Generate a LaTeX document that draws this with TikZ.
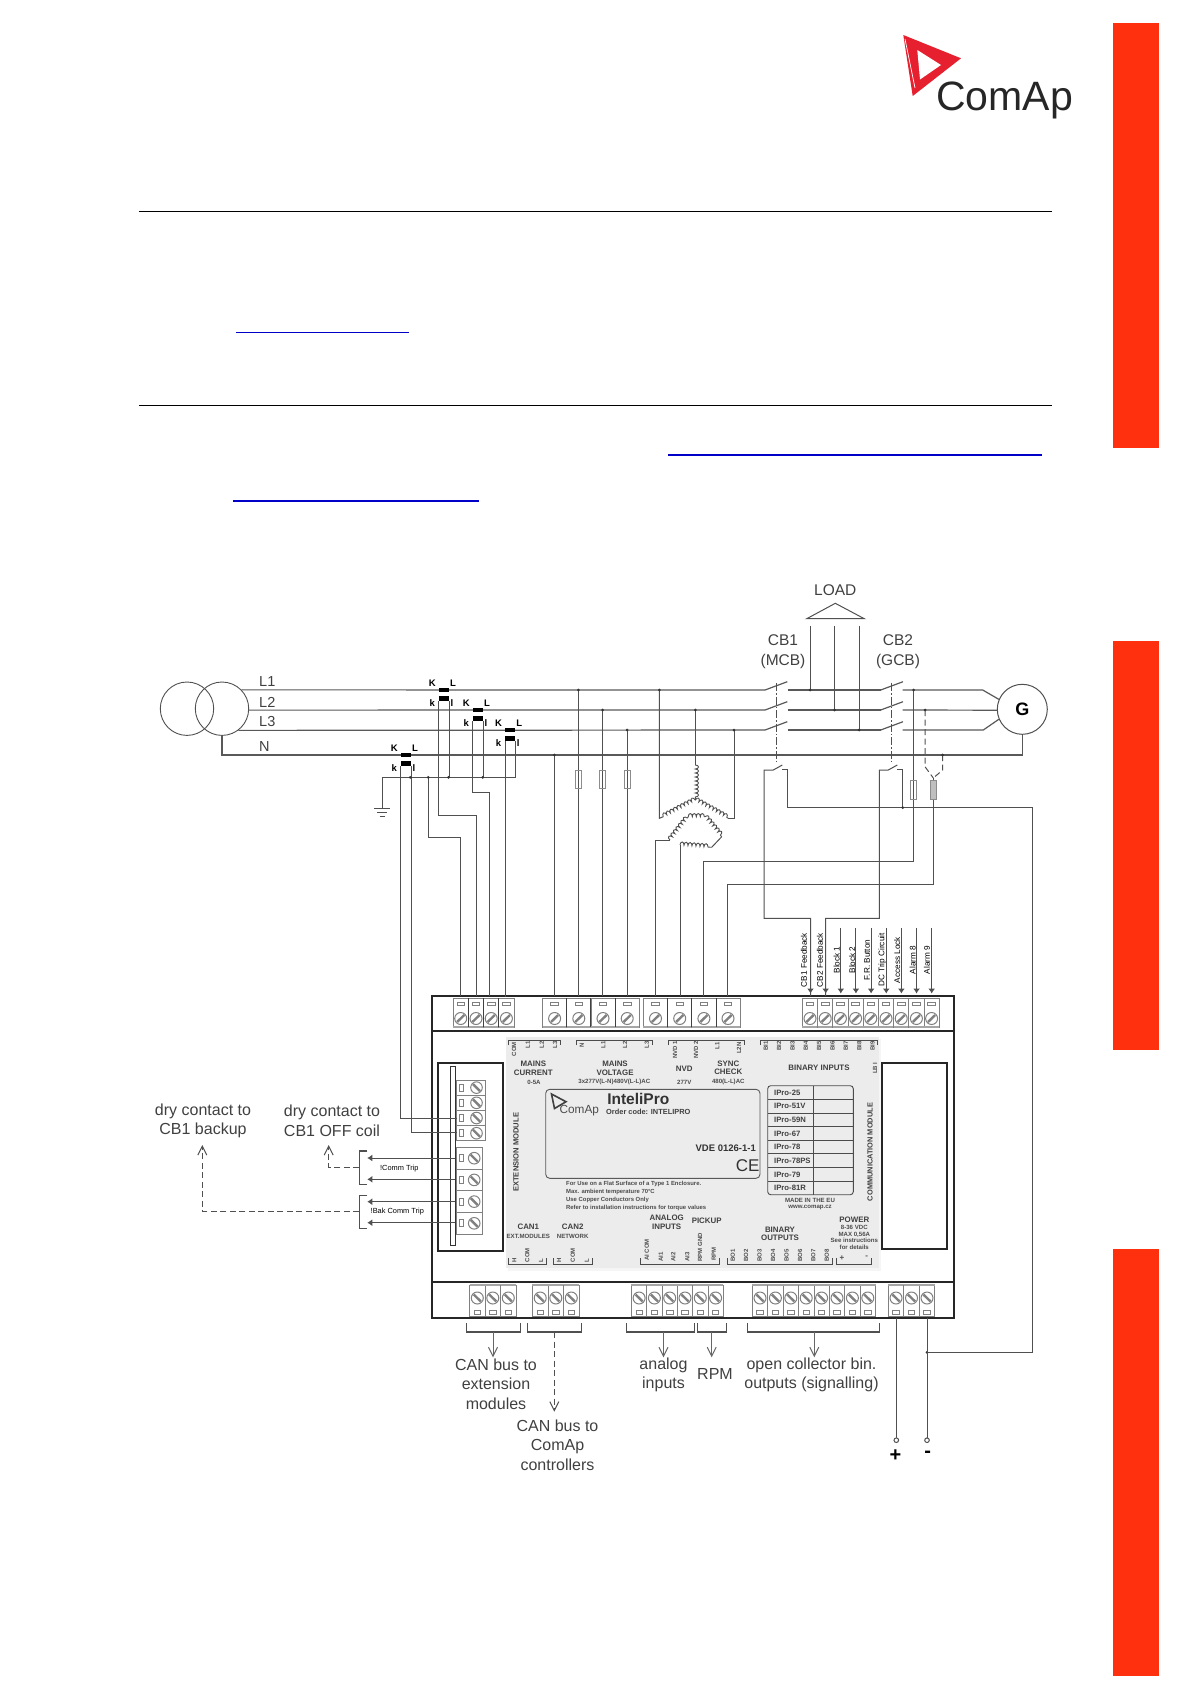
\documentclass[tikz,border=0pt]{standalone}
\usepackage{fontspec}
\setmainfont{Liberation Sans}
\usetikzlibrary{arrows.meta,decorations.pathmorphing}
\definecolor{barred}{HTML}{FF300E}
\definecolor{logored}{HTML}{E6202E}
\definecolor{linkblue}{HTML}{0000C8}
\definecolor{wirecol}{HTML}{505050}
\definecolor{labcol}{HTML}{404040}
\definecolor{panelcol}{HTML}{ECECEC}
\definecolor{blockcol}{HTML}{808080}
\newcommand{\fsz}[2]{\fontsize{#1}{#2}\selectfont}
\tikzset{
	wire/.style={draw=wirecol,line width=1pt},
	phase/.style={draw=black!65,line width=1.2pt},
	frame/.style={draw=black!85,line width=2.2pt},
	blockline/.style={draw=blockcol,line width=.8pt,fill=white},
	screwline/.style={draw=blockcol,line width=1pt,fill=white},
	hatch/.style={draw=blockcol,line width=2.4pt},
	band/.style={draw=blockcol!70,line width=1.8pt},
	dashwire/.style={draw=wirecol,line width=1pt,dash pattern=on 6pt off 3.5pt},
	mech/.style={draw=wirecol,line width=.9pt,dash pattern=on 8pt off 2pt on 1.5pt off 2pt},
	brk/.style={draw=wirecol,line width=1.2pt},
	pbrk/.style={draw=black!70,line width=.9pt},
	openarr/.style={-{Straight Barb[length=9pt,width=9pt]}},
	blackarr/.style={-{Latex[length=5pt,width=7pt]}},
	ctbar/.style={fill=black,inner sep=0pt,minimum width=10pt,minimum height=4.5pt},
	ctlab/.style={font=\bfseries\fsz{9.5}{10},inner sep=0pt},
	lab/.style={font=\fsz{16}{19.6},text=labcol,align=center,inner sep=0pt},
	pinlab/.style={font=\fsz{8.2}{9},rotate=90,inner sep=0pt},
	ptxt/.style={font=\bfseries\fsz{7.9}{8.6},text=black!75,align=center,inner sep=0pt},
	psmall/.style={font=\bfseries\fsz{6.1}{6.5},text=black!70,align=center,inner sep=0pt},
	ppin/.style={font=\bfseries\fsz{6}{6},text=black!70,rotate=90,inner sep=0pt},
	fuse/.style={draw=black!45,line width=.9pt},
}
% x centre, top y, width
\newcommand{\termT}[3]{
	\draw[blockline] (#1-#3/2,#2) rectangle (#1+#3/2,#2+29);
	\draw[blockline] (#1-3.8,#2+4) rectangle (#1+3.8,#2+7.5);
	\draw[screwline] (#1,#2+20.5) circle (6);
	\draw[hatch] (#1-3.6,#2+24) -- (#1+3.6,#2+17);
	\draw[band] (#1-#3/2,#2+29) -- (#1+#3/2,#2+29);
}
\newcommand{\termB}[3]{
	\draw[blockline] (#1-#3/2,#2) rectangle (#1+#3/2,#2+31);
	\draw[blockline] (#1-3.2,#2+25) rectangle (#1+3.2,#2+29);
	\draw[screwline] (#1,#2+13) circle (6);
	\draw[hatch] (#1-3.6,#2+9.5) -- (#1+3.6,#2+16.5);
	\draw[band] (#1-#3/2,#2) -- (#1+#3/2,#2);
}
% centre y, left x, right x, height
\newcommand{\termL}[4]{
	\draw[blockline] (#2,#1-#4/2) rectangle (#3,#1+#4/2);
	\draw[blockline] (#2+3,#1-3.5) rectangle (#2+6.5,#1+3.5);
	\draw[screwline] (#3-8.5,#1) circle (5.8);
	\draw[hatch] (#3-12,#1-3.5) -- (#3-5,#1+3.5);
}
\newcommand{\blade}[2]{\draw[phase] (#1,#2) -- ++(22.3,-8.3);}
\begin{document}
\begin{tikzpicture}[x=1pt,y=-1pt]
	\useasboundingbox (0,0) rectangle (1191,1684);
	% page furniture
	\foreach \ya/\yb in {23/448,641/1050,1249/1676}
		\fill[barred] (1113,\ya) rectangle (1159,\yb);
	\draw[black,line width=1pt] (139,211.5) -- (1052,211.5);
	\draw[black,line width=1pt] (139,405.5) -- (1052,405.5);
	\draw[linkblue,line width=1pt] (236,332) -- (409,332);
	\draw[linkblue,line width=2pt] (668,454.5) -- (1041.5,454.5);
	\draw[linkblue,line width=2pt] (233,500.5) -- (479,500.5);
	% logo
	\fill[logored] (903.3,35) -- (961,58.3) -- (912.7,96) -- cycle;
	\fill[white] (917.3,50) -- (941,65) -- (920,79.5) -- cycle;
	\draw[white,line width=.7pt] (905,39) -- (915,88);
	\node[font=\fsz{41}{41},text=black!85,inner sep=0pt,anchor=base west] (logotext) at (936,110) {ComAp};

	% controller
	\fill[black!4] (508,1039) rectangle (881,1271);
	\fill[panelcol] (506,1037) rectangle (879,1268);
	\draw[frame] (432,996) rectangle (954.3,1318);
	\draw[frame] (432,1030.7) -- (954.3,1030.7);
	\draw[frame] (432,1282) -- (954.3,1282);
	\draw[frame] (438.3,1063.3) rectangle (503.3,1250.7);
	\draw[frame] (882.3,1062.7) rectangle (947.3,1249.3);
	\draw[draw=black!80,line width=.9pt,fill=white] (450.7,1066.7) rectangle (455.7,1245);
	\foreach \x in {460.7,476,491.2,506.4} {\termT{\x}{998}{15.3}}
	\foreach \x in {554.6,578.8,603,627.2,655.5,679.7,703.9,728} {\termT{\x}{998}{24.2}}
	\foreach \i in {0,...,8} {\termT{810+15.2*\i}{998}{15.2}}
	\foreach \x in {468.4,483.7,498.9,566.7,590.9,615.1,667.6,691.8,716} {\draw[draw=black!75,line width=.9pt] (\x,998) -- (\x,1027);}
	\foreach \x in {477.3,492.8,508.3,540.2,555.8,571.3} {\termB{\x}{1285}{15.5}}
	\foreach \i in {0,...,5} {\termB{639.1+15.3*\i}{1285}{15.3}}
	\foreach \i in {0,...,7} {\termB{760+15.4*\i}{1285}{15.4}}
	\foreach \x in {896,911.5,927} {\termB{\x}{1285}{15.5}}
	\foreach \y in {1087.6,1102.8,1118,1133.2} {\termL{\y}{456.7}{485}{15.2}}
	\foreach \y in {1158.2,1179.9,1201.6,1223.3} {\termL{\y}{456.7}{482.7}{21.7}}
	\foreach \n/\x in {cur1/460.7,cur2/476,cur3/489.7,cur4/505.5,vlt1/554.4,vlt2/578.4,vlt3/602.7,vlt4/627.2,nvd1/655.7,nvd2/680,syn1/703.3,syn2/727.7,inpA/810.5,inpB/825.7}
		\coordinate (\n) at (\x,996);
	\coordinate (busW) at (382.3,777.3);
	\coordinate (busE) at (515,777.3);

	% panel print
	\draw[draw=black!65,line width=.9pt,rounded corners=4pt] (545.7,1089.3) rectangle (760,1178.3);
	\draw[draw=black!75,line width=1.6pt] (551.5,1094) -- (566,1101.7) -- (554.5,1108.5) -- cycle;
	\node[font=\fsz{11.8}{12},text=black!70,inner sep=0pt] (cmpsmall) at (579.3,1110.7) {ComAp};
	\node[font=\bfseries\fsz{15.5}{16},text=black!80,inner sep=0pt] (modelname) at (638.3,1099.3) {InteliPro};
	\node[font=\bfseries\fsz{7.4}{8},text=black!75,inner sep=0pt] (ordercode) at (648.3,1111.7) {Order code: INTELIPRO};
	\node[font=\bfseries\fsz{9.5}{10},text=black!80,inner sep=0pt] (vdetxt) at (725.7,1148.7) {VDE 0126-1-1};
	\node[font=\fsz{17}{17},text=black!80,inner sep=0pt] (cetxt) at (747.7,1166) {CE};
	\node[font=\bfseries\fsz{5.9}{7.9},text=black!70,align=left,inner sep=0pt,anchor=north west] (notes) at (566,1181.5) {For Use on a Flat Surface of a Type 1 Enclosure.\\Max. ambient temperature 70°C\\Use Copper Conductors Only\\Refer to installation instructions for torque values};
	\node[ptxt,font=\bfseries\fsz{7.6}{8},rotate=90] (extmod) at (516,1152.3) {EXTENSION MODULE};
	\node[ptxt,font=\bfseries\fsz{7.4}{8},rotate=90] (commod) at (870,1152) {COMMUNICATION MODULE};
	\foreach \n/\t/\x/\y in {h1/{MAINS\\CURRENT}/533.3/1068,h2/{MAINS\\VOLTAGE}/615/1068,h3/NVD/684.3/1068.3,h4/{SYNC\\CHECK}/728.3/1067.7,h5/BINARY INPUTS/819/1067.7,h6/{CAN1}/528.3/1226.7,h7/{CAN2}/572.7/1226.7,h8/{ANALOG\\INPUTS}/666.7/1222.2,h9/PICKUP/706.7/1220.3,h10/{BINARY\\OUTPUTS}/780/1233.7,h11/POWER/854.3/1220}
		\node[ptxt] (\n) at (\x,\y) {\t};
	\foreach \n/\t/\x/\y in {s1/0-5A/534/1082.3,s2/{3x277V(L-N)480V(L-L)AC}/614.3/1081.7,s3/277V/684.3/1082.3,s4/480(L-L)AC/728.3/1081.7,s5/EXT.MODULES/528.3/1236.7,s6/NETWORK/572.7/1236.3,s7/{MADE IN THE EU\\www.comap.cz}/810/1204.2,s8/{8-36 VDC\\MAX 0,56A\\See instructions\\for details}/854.3/1237.5}
		\node[psmall] (\n) at (\x,\y) {\t};
	\foreach \n/\t/\x/\y in {p1/COM/514/1049,p2/L1/527.7/1045,p3/L2/541.7/1045,p4/L3/555/1045,p5/N/581.7/1045,p6/L1/603.3/1045,p7/L2/625/1045,p8/L3/646.7/1045,p9/NVD 1/675/1050,p10/NVD 2/696/1050,p11/L1/717.3/1046,p12/L2N/739/1048.3,p13/LB I/875/1068.3,p14/H/514.3/1260.7,p15/COM/527.3/1255,p16/L/541/1260.7,p17/H/559/1260.7,p18/COM/572.7/1255,p19/L/586.7/1260.7,p20/AI COM/646.7/1250,p21/AI1/660.7/1256.7,p22/AI2/673.3/1256.7,p23/AI3/687.3/1256.7,p24/RPM GND/700/1247.3,p25/RPM/713.7/1254.3}
		\node[ppin] (\n) at (\x,\y) {\t};
	\foreach \t [count=\i] in {1,...,9}
		\node[ppin] (bi\i) at (765.7+13.37*\i-13.37,1046) {BI\t};
	\foreach \t [count=\i] in {1,...,8}
		\node[ppin] (bo\i) at (732.7+13.45*\i-13.45,1255.7) {BO\t};
	\node[ppin,font=\bfseries\fsz{8}{8},rotate=-90] (pwrplus) at (842,1257.7) {+};
	\node[ppin,font=\bfseries\fsz{8}{8},rotate=-90] (pwrminus) at (866.7,1257.7) {-};
	\foreach \xa/\xb in {508.7/560.7,576/652.7,668.3/744,760/877.3}
		\draw[pbrk] (\xa,1045) -- (\xa,1040) -- (\xb,1040) -- (\xb,1045);
	\foreach \xa/\xb in {508.3/546.7,553.3/592.3,640.7/719.3,727.3/832.7,836.7/871.7}
		\draw[pbrk] (\xa,1258) -- (\xa,1264.3) -- (\xb,1264.3) -- (\xb,1258);
	% protection table
	\draw[draw=black!70,line width=.9pt,rounded corners=3pt] (767.7,1085.7) rectangle (853.3,1194.7);
	\draw[draw=black!70,line width=.9pt] (813.3,1085.7) -- (813.3,1194.7);
	\foreach \t [count=\i] in {25,51V,59N,67,78,78PS,79,81R}{
		\node[font=\bfseries\fsz{7.7}{8},text=black!75,inner sep=0pt,anchor=west] (row\i) at (774,1079+13.62*\i) {IPro-\t};
		\ifnum\i<8 \draw[draw=black!70,line width=.9pt] (767.7,1085.7+13.62*\i) -- (853.3,1085.7+13.62*\i);\fi
	}

	% source side
	\node[circle,draw=wirecol,line width=.9pt,inner sep=0pt,minimum size=53.4pt] (trA) at (187,708.7) {};
	\node[circle,draw=wirecol,line width=.9pt,inner sep=0pt,minimum size=53.4pt] (trB) at (222,708.7) {};
	\node[circle,draw=wirecol,line width=1pt,fill=white,inner sep=0pt,minimum size=50pt,font=\bfseries\fsz{18}{18}] (gen) at (1022.3,709.3) {G};
	\foreach \n/\t/\y in {tL1/L1/682,tL2/L2/702,tL3/L3/721,tN/N/747}
		\node[lab,font=\fsz{14.5}{15},anchor=west] (\n) at (259,\y) {\t};
	% phases
	\draw[phase] (trB.44.5) -- (765,690);
	\draw[phase] (trB.-3) -- (765,710);
	\draw[phase] (trB.-53) -- (765,730);
	\draw[phase] (222,735.4) -- (222,755) -- (1022.3,755) -- (gen.south);
	\foreach \y in {690,710,730}{
		\blade{765}{\y}
		\blade{880.7}{\y}
		\draw[phase] (787.5,\y) -- (880.7,\y);
	}
	\draw[phase] (902.5,690) -- (982.7,690) -- (gen.157);
	\draw[phase] (902.5,710) -- (gen.182);
	\draw[phase] (902.5,730) -- (983.3,730) -- (gen.-157);
	\draw[mech] (776.7,683) -- (776.7,762.7);
	\draw[mech] (891.7,683) -- (891.7,762.7);
	% load
	\node[lab,font=\fsz{15.5}{16}] (loadtxt) at (835.3,590) {LOAD};
	\draw[wire] (835.3,603.3) -- (806.7,618.7) -- (864.3,618.7) -- cycle;
	\draw[wire] (810,626) -- (810,690);
	\draw[wire] (834.7,626) -- (834.7,710);
	\draw[wire] (859,626) -- (859,730);
	\node[lab,font=\fsz{15.5}{19.3}] (cbmain) at (783,651.7) {CB1\\(MCB)};
	\node[lab,font=\fsz{15.5}{19.3}] (cbgen) at (898,651.7) {CB2\\(GCB)};

	% current transformers
	\foreach \n/\x/\y in {ctA/444/690,ctB/478/710,ctC/510.3/730,ctN/406/755}{
		\node[ctbar] (\n t) at (\x,\y) {};
		\node[ctbar] (\n b) at (\x,\y+8.7) {};
		\node[ctlab] (\n K) at (\x-11.7,\y-7) {K};
		\node[ctlab] (\n L) at (\x+9,\y-7) {L};
		\node[ctlab] (\n k) at (\x-11.7,\y+13) {k};
		\node[ctlab] (\n l) at (\x+8,\y+13) {l};
	}
	\draw[wire] (busW) -- (busE);
	\draw[wire] (busW) -- (382.3,808.7);
	\draw[wire] (374,808.7) -- (390,808.7);
	\draw[wire] (377.3,812.3) -- (387.3,812.3);
	\draw[wire] (379.7,816) -- (385,816);
	\draw[wire] (ctAb.south east) |- (busE);
	\draw[wire] (ctBb.south east) |- (busE);
	\draw[wire] (ctCb.south east) |- (busE);
	\draw[wire] (ctNb.south east) |- (busW);
	\draw[wire] (ctAb.south west) -- ++(0,114.7) -| (cur2);
	\draw[wire] (ctBb.south west) -- ++(0,71.3) -| (cur3);
	\draw[wire] (ctCb.south west) |- (cur4);
	\draw[wire] (428.3,777.3) -- (428.3,837.7) -| (cur1);
	\draw[wire] (ctNb.south west) |- (456.7,1118);
	\draw[wire] (ctNb.south east) |- (456.7,1132.3);
	% measured voltages
	\foreach \n/\y in {vlt1/755,vlt2/690,vlt3/710,vlt4/730}{
		\draw[wire] (\n |- 0,\y) -- (\n);
		\fill[black!80] (\n |- 0,\y) circle (1.5);
	}
	\foreach \n in {vlt2,vlt3,vlt4}
		\draw[fuse] ([xshift=-3pt]\n |- 0,770) rectangle ([xshift=3pt]\n |- 0,788.3);
	% voltage transformers
	\tikzset{coilw/.style={draw=wirecol,line width=.9pt,decorate,decoration={bumps,amplitude=3.2pt,segment length=8pt}}}
	\coordinate (starA) at (695.3,800);
	\draw[wire] (695.3,710) -- (695.3,765);
	\draw[coilw] (695.3,765) -- (starA);
	\draw[coilw] (663.3,816.7) -- (starA);
	\draw[coilw] (starA) -- (728.3,818.3);
	\draw[wire] (663.3,816.7) -- (659.3,818.3) -- (659.3,690);
	\draw[wire] (728.3,818.3) -- (734,818.3) -- (734,730);
	\draw[wire] (nvd1) -- (655.7,840) -- (670,840);
	\draw[coilw] (670,840) -- (688.3,816.7);
	\draw[coilw] (688.3,816.7) -- (705,816.7);
	\draw[coilw] (705,816.7) -- (721.7,836.7);
	\draw[wire] (721.7,836.7) -- (711.7,847.3);
	\draw[coilw] (680,845) -- (711.7,847.3);
	\draw[wire] (680,845) -- (nvd2);
	% generator voltage
	\draw[wire] (913.7,690) -- (913.7,861) -| (syn1);
	\draw[fuse] (910.7,780.7) rectangle (916.7,799.3);
	\draw[dashwire] (925,710) -- (925,766.7) -- (933.3,778);
	\draw[dashwire] (942.7,755) -- (942.7,770) -- (933.3,778);
	\draw[wire] (933.3,778) -- (933.3,884) -| (syn2);
	\draw[fuse,fill=black!25] (930,780.7) rectangle (936.7,799.3);
	% feedback contacts
	\draw[wire] (782.3,769.3) -- (787.7,769.3) -- (787.7,807.7) -- (1032.7,807.7) -- (1032.7,1352.3) -- (927,1352.3);
	\draw[wire] (897.3,769.3) -- (902.7,769.3) -- (902.7,807.7);
	\draw[wire] (782.3,765) -- (773.3,770) -- (764,770) -- (764,918.3) -| (inpA);
	\draw[wire] (897.3,765) -- (888.3,770) -- (879.3,770) -- (879.3,918.3) -| (inpB);
	\foreach \x/\y in {659.3/690,695.3/710,734/730,810/690,834.7/710,859/730,913.7/690,925/710,942.7/755,902.7/807.7,927/1352.3,410.3/777.3,428.3/777.3,448.5/777.3,482.7/777.3}
		\fill[black!80] (\x,\y) circle (1.5);
	% binary inputs
	\draw[wire,blackarr] (810.5,918.3) -- (810.5,993.5);
	\draw[wire,blackarr] (825.7,918.3) -- (825.7,993.5);
	\foreach \i in {2,...,8}
		\draw[wire,blackarr] (810.5+15.15*\i,928.3) -- (810.5+15.15*\i,993.5);
	\foreach \t/\x in {CB1 Feedback/804,CB2 Feedback/820,Block 1/836.7,Block 2/852.3,F.R. Button/867,DC Trip Circuit/882.3,Access Lock/897.3,Alarm 8/912.7,Alarm 9/927}
		\node[pinlab] (lab\x) at (\x,960) {\t};

	% trip relays
	\foreach \y in {1158,1179.3,1201.7,1222.7}
		\draw[wire,blackarr] (455,\y) -- (367.3,\y);
	\foreach \ya/\yb in {1151/1184.3,1195.3/1228.7}
		\draw[brk,line width=1.4pt] (367.3,\ya) -- (359.3,\ya) -- (359.3,\yb) -- (367.3,\yb);
	\node[font=\fsz{7.4}{8},inner sep=0pt] (cmtrip) at (399.3,1168.3) {!Comm Trip};
	\node[font=\fsz{7.4}{8},inner sep=0pt] (bktrip) at (397.3,1212) {!Bak Comm Trip};
	\draw[dashwire,openarr] (359.3,1167.3) -- (328.7,1167.3) -- (328.7,1145);
	\draw[dashwire,openarr] (359.3,1211) -- (202.3,1211) -- (202.3,1145);
	\node[lab] (drybak) at (203,1121) {dry contact to\\CB1 backup};
	\node[lab] (drymain) at (332,1121) {dry contact to\\CB1 OFF coil};

	% bottom connectors
	\foreach \xa/\xb in {466.2/520.2,527.5/581.5,626.6/694.5,697.2/726.8,747.2/879.7}
		\draw[brk] (\xa,1323.3) -- (\xa,1332) -- (\xb,1332) -- (\xb,1323.3);
	\foreach \x in {493,663.5,711.7,814.3}
		\draw[wire,draw=black!60,openarr] (\x,1332) -- (\x,1357.3);
	\draw[dashwire,openarr] (554.3,1332) -- (554.3,1411.7);
	\node[lab] (canext) at (496,1384) {CAN bus to\\extension\\modules};
	\node[lab] (cancom) at (557.5,1445) {CAN bus to\\ComAp\\controllers};
	\node[lab] (anatxt) at (663.5,1375) {analog\\inputs};
	\node[lab] (rpmtxt) at (715,1374.3) {RPM};
	\node[lab] (bintxt) at (811.5,1375) {open collector bin.\\outputs (signalling)};
	\draw[wire] (896.3,1318) -- (896.3,1438);
	\draw[wire] (927,1318) -- (927,1438);
	\draw[wire,fill=white] (896.3,1440.2) circle (2.3);
	\draw[wire,fill=white] (927,1440.2) circle (2.3);
	\node[font=\bfseries\fsz{20}{20},inner sep=0pt] (plusx) at (895.5,1455.5) {+};
	\node[font=\bfseries\fsz{20}{20},inner sep=0pt] (minusx) at (927.6,1454.5) {-};
\end{tikzpicture}
\end{document}
